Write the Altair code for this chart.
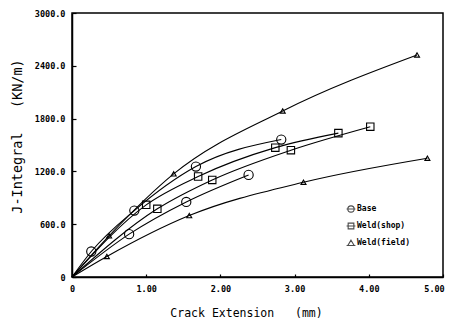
import altair as alt
import pandas as pd

series = ["Base", "Weld(shop)", "Weld(field)"]

# two test curves per material (crack extension mm, J-integral KN/m)
base1_x = [0, 0.26, 0.84, 1.67, 2.82]
base1_y = [0, 290, 755, 1255, 1562]
base2_x = [0, 0.77, 1.54, 2.38]
base2_y = [0, 487, 853, 1160]
shop1_x = [0, 1.00, 1.70, 2.74, 3.59]
shop1_y = [0, 820, 1142, 1470, 1635]
shop2_x = [0, 1.15, 1.89, 2.95, 4.02]
shop2_y = [0, 775, 1103, 1441, 1708]
field1_x = [0, 0.50, 1.37, 2.84, 4.65]
field1_y = [0, 468, 1172, 1887, 2523]
field2_x = [0, 0.47, 1.58, 3.12, 4.79]
field2_y = [0, 233, 698, 1077, 1350]

x_ticks = [0, 1, 2, 3, 4, 5]
y_ticks = [0, 600, 1200, 1800, 2400, 3000]

curves = [
    ("Base", "b1", base1_x, base1_y),
    ("Base", "b2", base2_x, base2_y),
    ("Weld(shop)", "s1", shop1_x, shop1_y),
    ("Weld(shop)", "s2", shop2_x, shop2_y),
    ("Weld(field)", "f1", field1_x, field1_y),
    ("Weld(field)", "f2", field2_x, field2_y),
]
rows = []
for s, c, xs, ys in curves:
    for i, (xv, yv) in enumerate(zip(xs, ys)):
        rows.append({"series": s, "curve": c, "x": xv, "y": yv, "order": i})
df = pd.DataFrame(rows)

MONO = "DejaVu Sans Mono"
xscale = alt.Scale(domain=[0, 5], nice=False, zero=True)
yscale = alt.Scale(domain=[0, 3000], nice=False, zero=True)

x_main = alt.X("x:Q", scale=xscale, axis=alt.Axis(
    orient="bottom", values=x_ticks, ticks=False, grid=False,
    labelExpr="datum.value == 0 ? '0' : format(datum.value, '.2f')",
    labelFont=MONO, labelFontSize=8.5, labelFontWeight="bold", labelColor="black",
    labelPadding=7, labelFlush=False, labelOverlap=False,
    labelOffset={"condition": {"test": "datum.value == 5", "value": -9}, "value": 0},
    domainColor="black", domainWidth=1.5,
    title="Crack Extension\u00a0\u00a0\u00a0(mm)", titleFont=MONO, titleFontSize=11.5,
    titleFontWeight="normal", titleColor="black", titleX=174, titleY=39,
    titleBaseline="alphabetic", titleAnchor="middle"))
y_main = alt.Y("y:Q", scale=yscale, axis=alt.Axis(
    orient="left", values=y_ticks, ticks=False, grid=False,
    labelExpr="datum.value == 0 ? '0' : format(datum.value, '.1f')",
    labelFont=MONO, labelFontSize=8.5, labelFontWeight="bold", labelColor="black",
    labelPadding=7, labelFlush=False, labelOverlap=False,
    domainColor="black", domainWidth=1.5,
    title="J-Integral\u00a0\u00a0\u00a0(KN/m)", titleFont=MONO, titleFontSize=13.5,
    titleFontWeight="normal", titleColor="black", titleX=-48, titleY=123,
    titleAnchor="middle"))

x_tick_axis = alt.X("x:Q", scale=xscale, axis=alt.Axis(
    orient="top", offset=-264, values=x_ticks, labels=False, domain=False,
    ticks=True, tickSize=3, tickColor="black", tickWidth=1.2, grid=False, title=None))
y_tick_axis = alt.Y("y:Q", scale=yscale, axis=alt.Axis(
    orient="right", offset=-371, values=y_ticks, labels=False, domain=False,
    ticks=True, tickSize=4, tickColor="black", tickWidth=1.2, grid=False, title=None))

lines = alt.Chart(df).mark_line(interpolate="monotone", color="black", strokeWidth=1.1).encode(
    x=x_main, y=y_main, detail="curve:N", order="order:Q")

points = alt.Chart(df).transform_filter("datum.x > 0").mark_point(
    filled=False, color="black", strokeWidth=1.1, opacity=1).encode(
    x=x_tick_axis, y=y_tick_axis,
    shape=alt.Shape("series:N", scale=alt.Scale(domain=series, range=["circle", "square", "triangle-up"]), legend=None),
    size=alt.Size("series:N", scale=alt.Scale(domain=series, range=[85, 25, 38]), legend=None))

legend_paths = [
    "M-1.4,0L1.4,0M1,0A1,1,0,1,1,-1,0A1,1,0,1,1,1,0",
    "M-1.4,0L1.4,0M-0.9,-0.9L0.9,-0.9L0.9,0.9L-0.9,0.9Z",
    "M-1.4,0.8L1.4,0.8M0,-0.9L1,0.8L-1,0.8Z",
]
legend_layer = alt.Chart(df).transform_filter("false").mark_point(
    filled=False, color="black", size=40).encode(
    shape=alt.Shape("series:N", scale=alt.Scale(domain=series, range=legend_paths),
                    legend=alt.Legend(orient="none", legendX=275, legendY=192, title=None,
                                      labelFont=MONO, labelFontSize=8, labelFontWeight="bold",
                                      labelColor="black", labelOffset=2, symbolSize=40,
                                      symbolStrokeColor="black", symbolStrokeWidth=1.1,
                                      symbolFillColor="transparent",
                                      rowPadding=5, padding=0)))

chart = alt.layer(lines, points, legend_layer).resolve_scale(
    shape="independent").resolve_axis(x="independent", y="independent").properties(
    width=371, height=264,
    autosize=alt.AutoSizeParams(type="none"),
    padding={"left": 64, "top": 5, "right": 3, "bottom": 43},
    background="white",
).configure_view(stroke="black", strokeWidth=1.5)

chart.save("out.html", embed_options={"renderer": "svg", "actions": False})
